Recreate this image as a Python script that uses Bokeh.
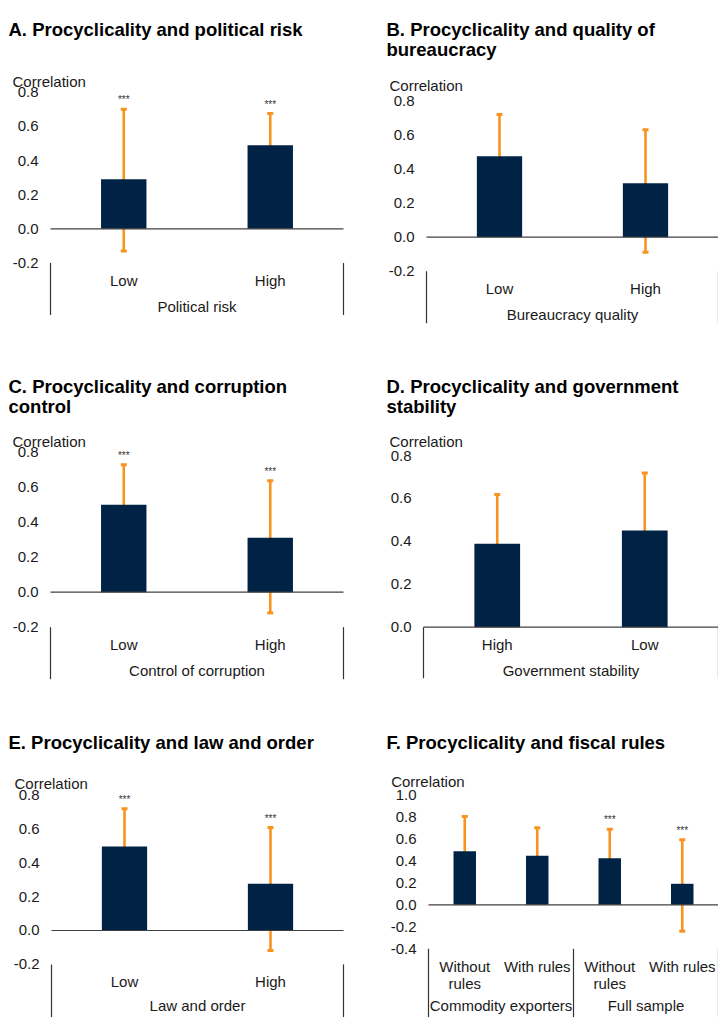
from bokeh.plotting import figure
from bokeh.models import ColumnDataSource, Range1d, Whisker, TeeHead, Label, LabelSet
from bokeh.layouts import row, column
from bokeh.core.properties import value
from bokeh.embed import file_html
from bokeh.resources import INLINE

# ---------------- data ----------------
A_title = ["A. Procyclicality and political risk"]
A_cats = ["Low", "High"]
A_groups = ["Political risk", "Political risk"]
A_vals = [0.29, 0.49]
A_lower = [-0.13, 0.35]
A_upper = [0.70, 0.675]
A_sig = ["***", "***"]
A_ticks = [-0.2, 0.0, 0.2, 0.4, 0.6, 0.8]

B_title = ["B. Procyclicality and quality of", "bureaucracy"]
B_cats = ["Low", "High"]
B_groups = ["Bureaucracy quality", "Bureaucracy quality"]
B_vals = [0.476, 0.318]
B_lower = [0.308, -0.088]
B_upper = [0.722, 0.632]
B_sig = ["", ""]
B_ticks = [-0.2, 0.0, 0.2, 0.4, 0.6, 0.8]

C_title = ["C. Procyclicality and corruption", "control"]
C_cats = ["Low", "High"]
C_groups = ["Control of corruption", "Control of corruption"]
C_vals = [0.50, 0.311]
C_lower = [0.353, -0.118]
C_upper = [0.728, 0.637]
C_sig = ["***", "***"]
C_ticks = [-0.2, 0.0, 0.2, 0.4, 0.6, 0.8]

D_title = ["D. Procyclicality and government", "stability"]
D_cats = ["High", "Low"]
D_groups = ["Government stability", "Government stability"]
D_vals = [0.389, 0.451]
D_lower = [0.166, 0.249]
D_upper = [0.618, 0.719]
D_sig = ["", ""]
D_ticks = [0.0, 0.2, 0.4, 0.6, 0.8]

E_title = ["E. Procyclicality and law and order"]
E_cats = ["Low", "High"]
E_groups = ["Law and order", "Law and order"]
E_vals = [0.495, 0.275]
E_lower = [0.354, -0.118]
E_upper = [0.718, 0.607]
E_sig = ["***", "***"]
E_ticks = [-0.2, 0.0, 0.2, 0.4, 0.6, 0.8]

F_title = ["F. Procyclicality and fiscal rules"]
F_cats = ["Without rules", "With rules", "Without rules", "With rules"]
F_groups = ["Commodity exporters", "Commodity exporters", "Full sample", "Full sample"]
F_vals = [0.487, 0.445, 0.424, 0.191]
F_lower = [0.33, 0.23, 0.248, -0.24]
F_upper = [0.803, 0.70, 0.687, 0.591]
F_sig = ["", "", "***", "***"]
F_ticks = [-0.4, -0.2, 0.0, 0.2, 0.4, 0.6, 0.8, 1.0]

Y_LABEL = "Correlation"

# ---------------- style ----------------
NAVY = "#002345"
ORANGE = "#F7931E"
TXT = "#1a1a1a"
FONT = "Liberation Sans"

# page layout (pixels)
COL_X = [0, 359]
COL_W = [359, 359]
ROW_Y = [0, 368, 727]
ROW_H = [368, 359, 290]


def make_panel(col, rw, title, cats, groups, vals, lower, upper, sig, ticks, g):
    fig_x, fig_y = COL_X[col], ROW_Y[rw]
    w, h = COL_W[col], ROW_H[rw]
    x0, x1, ytop, ybot = g["frame"]          # plot-area pixel box
    n = len(cats)
    t0, t1 = ticks[0], ticks[-1]
    kx = (x1 - x0) / n                        # px per category
    ky = (ybot - ytop) / (t1 - t0)            # px per unit

    def dx(px):
        return (px - x0) / kx

    def dy(py):
        return t1 - (py - ytop) / ky

    p = figure(width=w, height=h,
               x_range=Range1d(dx(fig_x), dx(fig_x + w)),
               y_range=Range1d(dy(fig_y + h), dy(fig_y)),
               output_backend="svg", toolbar_location=None,
               x_axis_location=None, y_axis_location=None, min_border=0)
    p.outline_line_color = None
    p.grid.visible = False
    p.background_fill_color = "white"
    p.border_fill_color = "white"

    xs = [i + 0.5 for i in range(n)]
    src = ColumnDataSource(dict(x=xs, val=vals, lo=lower, hi=upper, sig=sig, cat=cats))

    p.vbar(x="x", top="val", bottom=0, width=0.31, source=src,
           fill_color=NAVY, line_color=None)

    # zero line across the plot area
    p.segment(x0=[0], y0=[0], x1=[n], y1=[0], line_color="#404040", line_width=1.2)

    wh = Whisker(source=src, base="x", lower="lo", upper="hi", line_color=ORANGE, line_width=2.6,
                 lower_head=TeeHead(size=6, line_color=ORANGE, line_width=3),
                 upper_head=TeeHead(size=6, line_color=ORANGE, line_width=3))
    p.add_layout(wh)

    # significance stars
    p.add_layout(LabelSet(x="x", y="hi", text="sig", source=src, y_offset=6,
                          text_font=value(FONT), text_font_size="10px", text_color="#333333",
                          text_align="center", text_baseline="alphabetic"))

    # y tick labels
    tsrc = ColumnDataSource(dict(y=ticks, t=[f"{t:.1f}" for t in ticks]))
    p.add_layout(LabelSet(x=dx(x0 - 12), y="y", text="t", source=tsrc,
                          text_font=value(FONT), text_font_size="15px", text_color=TXT,
                          text_align="right", text_baseline="middle"))

    # title lines
    tx, ty0 = g["title"]
    for k, line in enumerate(title):
        p.add_layout(Label(x=dx(tx), y=dy(ty0 + 19.5 * k), text=line,
                           text_font=FONT, text_font_style="bold",
                           text_font_size="18.5px", text_color="#000000",
                           text_align="left", text_baseline="alphabetic"))
    # y label
    cx, cy = g["ylab"]
    p.add_layout(Label(x=dx(cx), y=dy(cy), text=Y_LABEL, text_font=FONT,
                       text_font_size="15px", text_color=TXT,
                       text_align="left", text_baseline="alphabetic"))

    # category labels (wrapped when long)
    line1, line2 = [], []
    for c in cats:
        if g.get("wrap") and len(c) > 10:
            a, b = c.split(" ", 1)
            line1.append(a)
            line2.append(b)
        else:
            line1.append(c)
            line2.append("")
    lsrc = ColumnDataSource(dict(x=xs, l1=line1, l2=line2))
    off = g["cat_off"]
    p.add_layout(LabelSet(x="x", y=dy(ybot + off[0]), text="l1", source=lsrc,
                          text_font=value(FONT), text_font_size="15px", text_color=TXT,
                          text_align="center", text_baseline="alphabetic"))
    if any(line2):
        p.add_layout(LabelSet(x="x", y=dy(ybot + off[1]), text="l2", source=lsrc,
                              text_font=value(FONT), text_font_size="15px", text_color=TXT,
                              text_align="center", text_baseline="alphabetic"))

    # group labels and separators
    names, centers, bounds = [], [], [0]
    for i, gname in enumerate(groups):
        if i == 0 or gname != groups[i - 1]:
            if i > 0:
                bounds.append(i)
            names.append(gname)
            members = [xs[j] for j in range(n) if groups[j] == gname]
            centers.append(sum(members) / len(members))
    bounds.append(n)
    gsrc = ColumnDataSource(dict(x=centers, name=names))
    p.add_layout(LabelSet(x="x", y=dy(ybot + off[-1]), text="name", source=gsrc,
                          text_font=value(FONT), text_font_size="15px", text_color=TXT,
                          text_align="center", text_baseline="alphabetic"))
    ssrc = ColumnDataSource(dict(x=bounds, y0=[dy(ybot)] * len(bounds),
                                 y1=[dy(ybot + g["sep"])] * len(bounds)))
    p.segment(x0="x", y0="y0", x1="x", y1="y1", source=ssrc,
              line_color="#333333", line_width=1.2)
    return p


pA = make_panel(0, 0, A_title, A_cats, A_groups, A_vals, A_lower, A_upper, A_sig, A_ticks,
                dict(frame=(50, 343, 91.7, 262.5), title=(8, 29), ylab=(12, 80.7),
                     cat_off=(23, 49), sep=52))
pB = make_panel(1, 0, B_title, B_cats, B_groups, B_vals, B_lower, B_upper, B_sig, B_ticks,
                dict(frame=(426, 718, 100.7, 270.7), title=(386, 29), ylab=(389, 85),
                     cat_off=(23, 49), sep=52))
pC = make_panel(0, 1, C_title, C_cats, C_groups, C_vals, C_lower, C_upper, C_sig, C_ticks,
                dict(frame=(50, 343, 451.7, 626.7), title=(8, 386), ylab=(12, 440.7),
                     cat_off=(23, 49), sep=52))
pD = make_panel(1, 1, D_title, D_cats, D_groups, D_vals, D_lower, D_upper, D_sig, D_ticks,
                dict(frame=(423, 718, 455, 626.7), title=(386, 386), ylab=(389, 440.7),
                     cat_off=(22.5, 49), sep=51))
pE = make_panel(0, 2, E_title, E_cats, E_groups, E_vals, E_lower, E_upper, E_sig, E_ticks,
                dict(frame=(51, 343, 794.3, 963.9), title=(8, 741.7), ylab=(14, 782.7),
                     cat_off=(23, 46.5), sep=60))
pF = make_panel(1, 2, F_title, F_cats, F_groups, F_vals, F_lower, F_upper, F_sig, F_ticks,
                dict(frame=(428, 718, 794.3, 948.3), title=(386, 741.7), ylab=(390.7, 781.3),
                     cat_off=(23.5, 40, 62.5), sep=75, wrap=True))

layout = column(row(pA, pB), row(pC, pD), row(pE, pF))

open("out.html", "w").write(file_html(layout, INLINE))
